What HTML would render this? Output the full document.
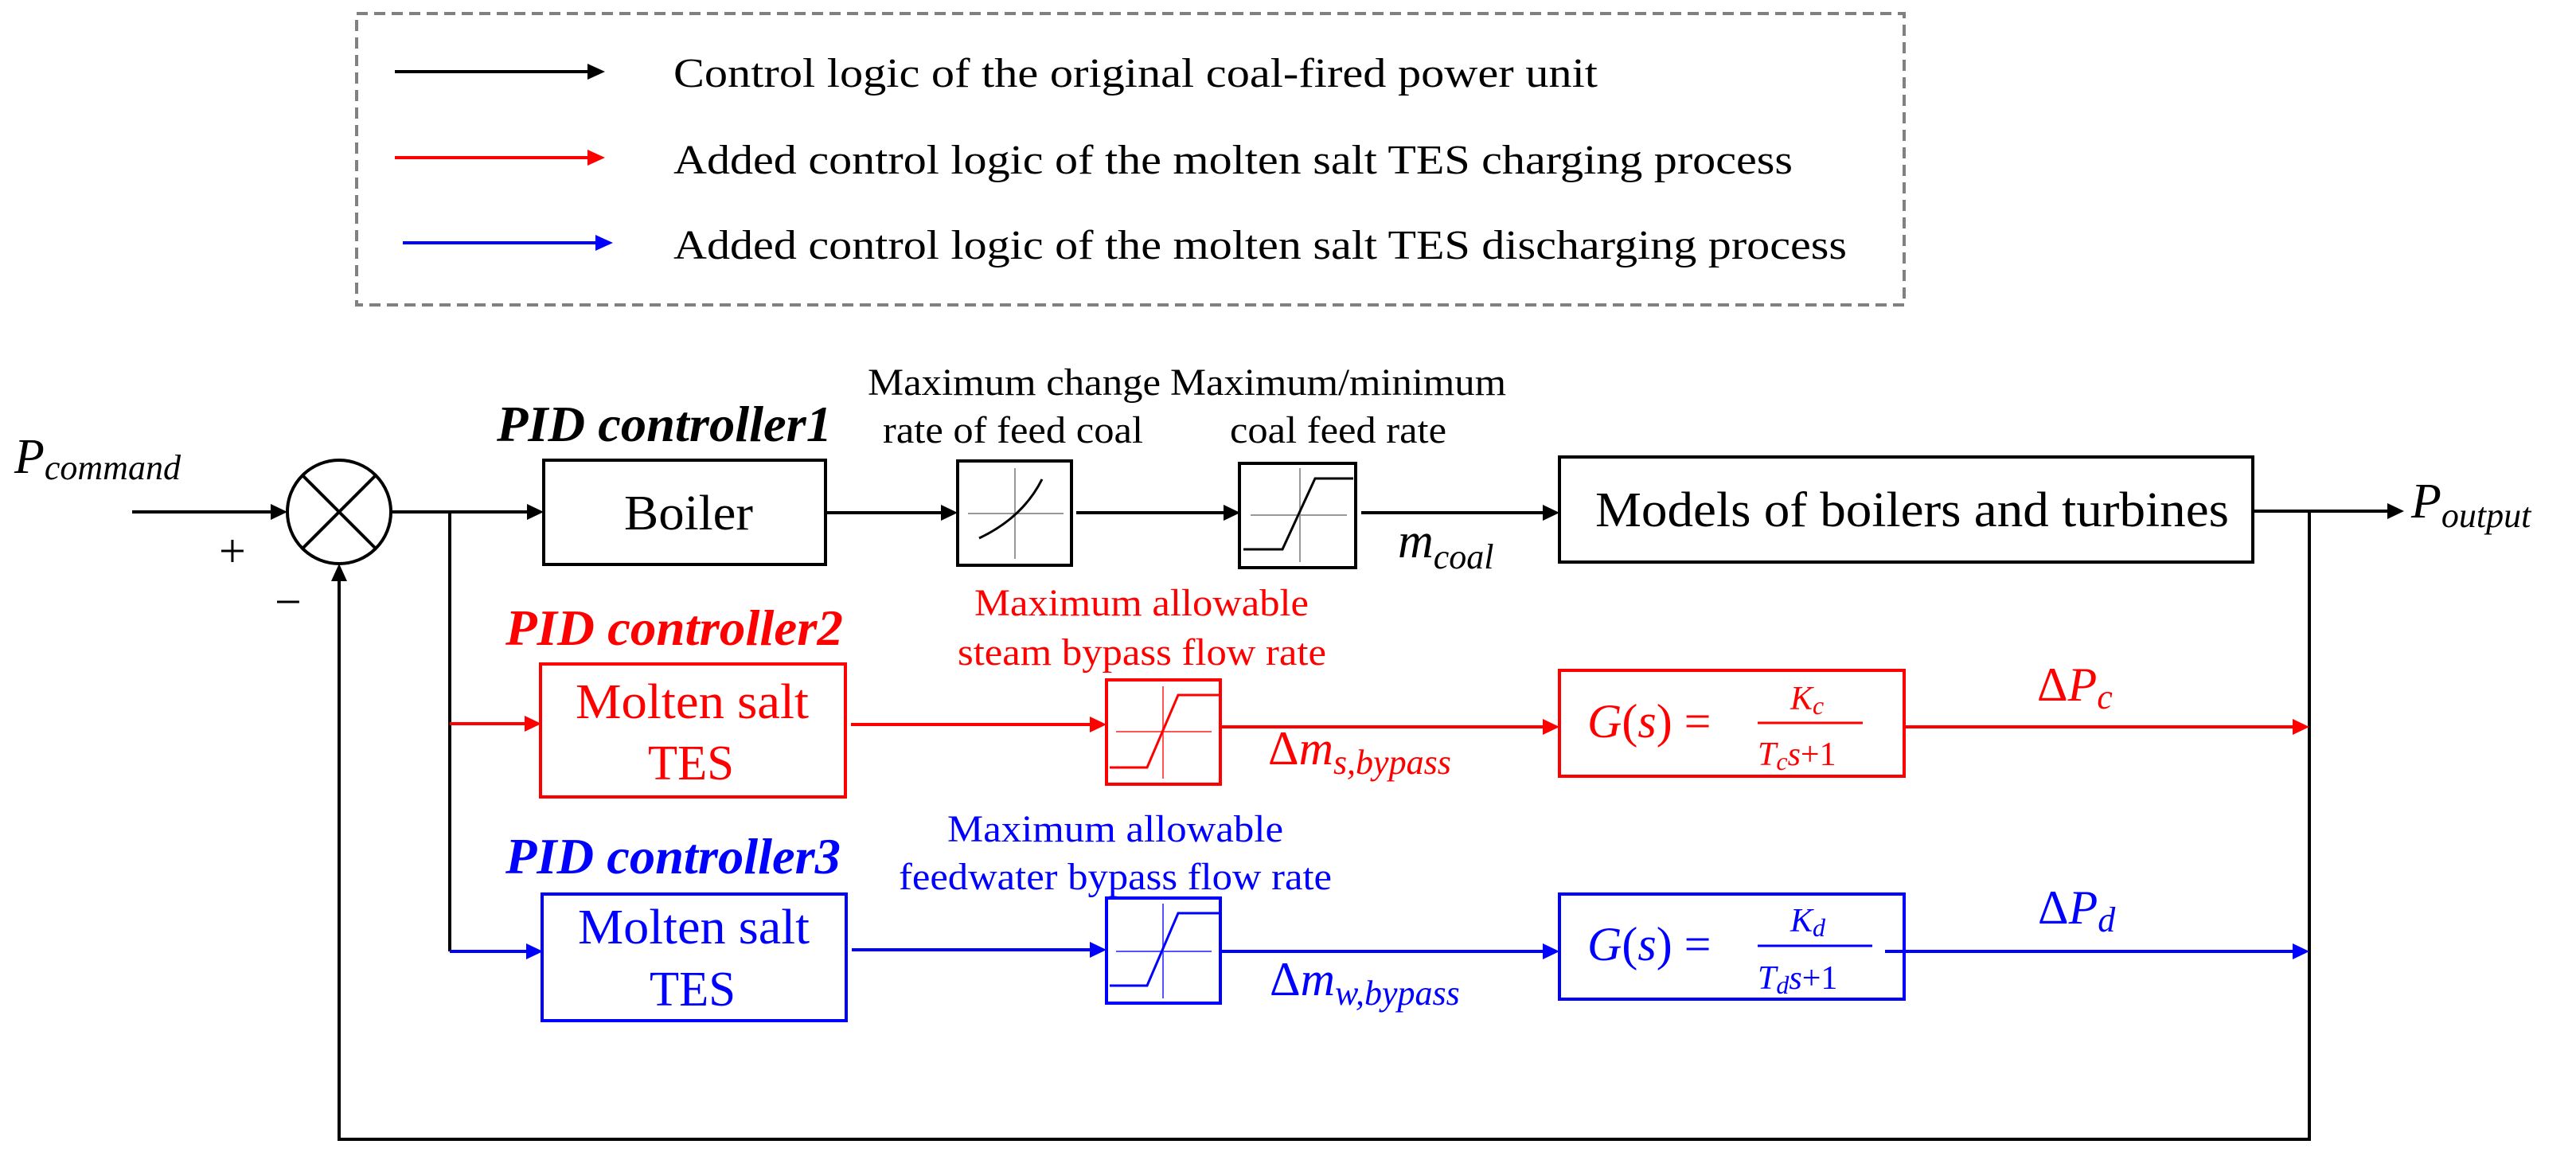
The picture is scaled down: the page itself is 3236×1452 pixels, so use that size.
<!DOCTYPE html>
<html><head><meta charset="utf-8"><style>html,body{margin:0;padding:0;background:#fff}svg{display:block}</style></head>
<body>
<svg width="3236" height="1452" viewBox="0 0 3236 1452" xmlns="http://www.w3.org/2000/svg" font-family="Liberation Serif, serif">
<defs>
<marker id="ak" markerWidth="8" markerHeight="8" refX="7" refY="4" orient="auto" markerUnits="userSpaceOnUse" viewBox="0 0 8 8"><path d="M0,0 L8,4 L0,8 z" fill="#000"/></marker>
</defs>
<!-- Legend -->
<rect x="448" y="17" width="1944" height="366" fill="none" stroke="#808080" stroke-width="4" stroke-dasharray="14,8"/>
<g stroke-width="4">
<line x1="496" y1="90" x2="740" y2="90" stroke="#000"/><path d="M738,80 L760,90 L738,100 z" fill="#000"/>
<line x1="496" y1="198" x2="740" y2="198" stroke="#f00"/><path d="M738,188 L760,198 L738,208 z" fill="#f00"/>
<line x1="506" y1="305" x2="750" y2="305" stroke="#00f"/><path d="M748,295 L770,305 L748,315 z" fill="#00f"/>
</g>
<g font-size="52" fill="#000">
<text x="846" y="109" textLength="1161" lengthAdjust="spacingAndGlyphs">Control logic of the original coal-fired power unit</text>
<text x="846" y="218" textLength="1406" lengthAdjust="spacingAndGlyphs">Added control logic of the molten salt TES charging process</text>
<text x="846" y="325" textLength="1474" lengthAdjust="spacingAndGlyphs">Added control logic of the molten salt TES discharging process</text>
</g>

<!-- Input -->
<text x="18" y="594" font-size="62" font-style="italic">P<tspan font-size="44" dy="8">command</tspan></text>
<line x1="166" y1="643" x2="340" y2="643" stroke="#000" stroke-width="4"/><path d="M340,633 L361,643 L340,653 z"/>
<text x="275" y="712" font-size="60">+</text>
<text x="345" y="776" font-size="60">−</text>
<circle cx="426" cy="643" r="65" fill="none" stroke="#000" stroke-width="4"/>
<line x1="380" y1="597" x2="472" y2="689" stroke="#000" stroke-width="4"/>
<line x1="472" y1="597" x2="380" y2="689" stroke="#000" stroke-width="4"/>

<!-- branch -->
<line x1="491" y1="643" x2="662" y2="643" stroke="#000" stroke-width="4"/><path d="M662,633 L683,643 L662,653 z"/>
<line x1="565" y1="643" x2="565" y2="1195" stroke="#000" stroke-width="4"/>
<line x1="565" y1="909" x2="660" y2="909" stroke="#f00" stroke-width="4"/><path d="M659,899 L680,909 L659,919 z" fill="#f00"/>
<line x1="565" y1="1195" x2="662" y2="1195" stroke="#00f" stroke-width="4"/><path d="M661,1185 L682,1195 L661,1205 z" fill="#00f"/>

<!-- feedback -->
<polyline points="2901,642 2901,1431 426,1431 426,730" fill="none" stroke="#000" stroke-width="4"/>
<path d="M416,730 L426,708 L436,730 z"/>

<!-- PID labels -->
<text x="624" y="554" font-size="64" font-weight="bold" font-style="italic" textLength="421" lengthAdjust="spacingAndGlyphs">PID controller1</text>
<text x="635" y="810" font-size="64" font-weight="bold" font-style="italic" fill="#f00" textLength="424" lengthAdjust="spacingAndGlyphs">PID controller2</text>
<text x="635" y="1097" font-size="64" font-weight="bold" font-style="italic" fill="#00f" textLength="421" lengthAdjust="spacingAndGlyphs">PID controller3</text>

<!-- Boiler -->
<rect x="683" y="578" width="354" height="131" fill="none" stroke="#000" stroke-width="4"/>
<text x="784" y="665" font-size="62" textLength="162" lengthAdjust="spacingAndGlyphs">Boiler</text>
<line x1="1037" y1="644" x2="1182" y2="644" stroke="#000" stroke-width="4"/><path d="M1182,634 L1203,644 L1182,654 z"/>

<!-- rate limiter -->
<text x="1090" y="496" font-size="48" textLength="368" lengthAdjust="spacingAndGlyphs">Maximum change</text>
<text x="1109" y="556" font-size="48" textLength="327" lengthAdjust="spacingAndGlyphs">rate of feed coal</text>
<rect x="1203" y="579" width="143" height="131" fill="none" stroke="#000" stroke-width="4"/>
<line x1="1216" y1="645" x2="1336" y2="645" stroke="#999" stroke-width="2"/>
<line x1="1275" y1="588" x2="1275" y2="702" stroke="#999" stroke-width="2"/>
<path d="M1230,676 Q1285,650 1309,602" fill="none" stroke="#000" stroke-width="3"/>
<line x1="1352" y1="644" x2="1537" y2="644" stroke="#000" stroke-width="4"/><path d="M1537,634 L1558,644 L1537,654 z"/>

<!-- saturation 1 -->
<text x="1470" y="496" font-size="48" textLength="422" lengthAdjust="spacingAndGlyphs">Maximum/minimum</text>
<text x="1545" y="556" font-size="48" textLength="272" lengthAdjust="spacingAndGlyphs">coal feed rate</text>
<rect x="1557" y="582" width="146" height="131" fill="none" stroke="#000" stroke-width="4"/>
<line x1="1571" y1="647" x2="1692" y2="647" stroke="#999" stroke-width="2"/>
<line x1="1633" y1="588" x2="1633" y2="706" stroke="#999" stroke-width="2"/>
<polyline points="1562,690 1611,690 1652,601 1700,601" fill="none" stroke="#000" stroke-width="3"/>
<line x1="1710" y1="644" x2="1938" y2="644" stroke="#000" stroke-width="4"/><path d="M1938,634 L1959,644 L1938,654 z"/>
<text x="1756" y="700" font-size="62" font-style="italic">m<tspan font-size="44" dy="14">coal</tspan></text>

<!-- Models -->
<rect x="1959" y="574" width="871" height="132" fill="none" stroke="#000" stroke-width="4"/>
<text x="2004" y="661" font-size="62" textLength="796" lengthAdjust="spacingAndGlyphs">Models of boilers and turbines</text>
<line x1="2830" y1="642" x2="3000" y2="642" stroke="#000" stroke-width="4"/><path d="M2999,632 L3020,642 L2999,652 z"/>
<text x="3029" y="650" font-size="62" font-style="italic">P<tspan font-size="44" dy="12">output</tspan></text>

<!-- Red row -->
<rect x="679" y="834" width="383" height="167" fill="none" stroke="#f00" stroke-width="4"/>
<text x="723" y="902" font-size="62" fill="#f00" textLength="293" lengthAdjust="spacingAndGlyphs">Molten salt</text>
<text x="814" y="979" font-size="62" fill="#f00" textLength="108" lengthAdjust="spacingAndGlyphs">TES</text>
<text x="1224" y="773" font-size="48" fill="#f00" textLength="420" lengthAdjust="spacingAndGlyphs">Maximum allowable</text>
<text x="1203" y="835" font-size="48" fill="#f00" textLength="463" lengthAdjust="spacingAndGlyphs">steam bypass flow rate</text>
<line x1="1069" y1="910" x2="1370" y2="910" stroke="#f00" stroke-width="4"/><path d="M1369,900 L1390,910 L1369,920 z" fill="#f00"/>
<rect x="1390" y="854" width="143" height="131" fill="none" stroke="#f00" stroke-width="4"/>
<line x1="1402" y1="919" x2="1522" y2="919" stroke="#f55" stroke-width="2"/>
<line x1="1461" y1="862" x2="1461" y2="978" stroke="#f55" stroke-width="2"/>
<polyline points="1394,964 1441,964 1480,873 1531,873" fill="none" stroke="#f00" stroke-width="3"/>
<line x1="1533" y1="913" x2="1938" y2="913" stroke="#f00" stroke-width="4"/><path d="M1938,903 L1959,913 L1938,923 z" fill="#f00"/>
<text x="1593" y="960" font-size="60" fill="#f00">Δ<tspan font-style="italic">m</tspan><tspan font-style="italic" font-size="44" dy="12">s,bypass</tspan></text>
<rect x="1959" y="842" width="433" height="133" fill="none" stroke="#f00" stroke-width="4"/>
<text x="1994" y="926" font-size="60" fill="#f00"><tspan font-style="italic">G</tspan>(<tspan font-style="italic">s</tspan>) =</text>
<text x="2249" y="891" font-size="42" fill="#f00" font-style="italic">K<tspan font-size="32" dy="6">c</tspan></text>
<line x1="2208" y1="908" x2="2340" y2="908" stroke="#f00" stroke-width="3"/>
<text x="2208" y="961" font-size="42" fill="#f00"><tspan font-style="italic">T</tspan><tspan font-style="italic" font-size="32" dy="6">c</tspan><tspan dy="-6" font-style="italic">s</tspan>+1</text>
<line x1="2392" y1="913" x2="2880" y2="913" stroke="#f00" stroke-width="4"/><path d="M2880,903 L2901,913 L2880,923 z" fill="#f00"/>
<text x="2559" y="880" font-size="60" fill="#f00">Δ<tspan font-style="italic">P</tspan><tspan font-style="italic" font-size="44" dy="10">c</tspan></text>

<!-- Blue row -->
<rect x="681" y="1123" width="382" height="159" fill="none" stroke="#00f" stroke-width="4"/>
<text x="726" y="1185" font-size="62" fill="#00f" textLength="291" lengthAdjust="spacingAndGlyphs">Molten salt</text>
<text x="816" y="1263" font-size="62" fill="#00f" textLength="108" lengthAdjust="spacingAndGlyphs">TES</text>
<text x="1190" y="1057" font-size="48" fill="#00f" textLength="422" lengthAdjust="spacingAndGlyphs">Maximum allowable</text>
<text x="1129" y="1117" font-size="48" fill="#00f" textLength="544" lengthAdjust="spacingAndGlyphs">feedwater bypass flow rate</text>
<line x1="1070" y1="1193" x2="1370" y2="1193" stroke="#00f" stroke-width="4"/><path d="M1369,1183 L1390,1193 L1369,1203 z" fill="#00f"/>
<rect x="1390" y="1128" width="143" height="132" fill="none" stroke="#00f" stroke-width="4"/>
<line x1="1402" y1="1195" x2="1522" y2="1195" stroke="#55f" stroke-width="2"/>
<line x1="1461" y1="1135" x2="1461" y2="1254" stroke="#55f" stroke-width="2"/>
<polyline points="1394,1238 1441,1238 1480,1147 1531,1147" fill="none" stroke="#00f" stroke-width="3"/>
<line x1="1533" y1="1195" x2="1938" y2="1195" stroke="#00f" stroke-width="4"/><path d="M1938,1185 L1959,1195 L1938,1205 z" fill="#00f"/>
<text x="1595" y="1250" font-size="60" fill="#00f">Δ<tspan font-style="italic">m</tspan><tspan font-style="italic" font-size="44" dy="12">w,bypass</tspan></text>
<rect x="1959" y="1123" width="433" height="132" fill="none" stroke="#00f" stroke-width="4"/>
<text x="1994" y="1206" font-size="60" fill="#00f"><tspan font-style="italic">G</tspan>(<tspan font-style="italic">s</tspan>) =</text>
<text x="2249" y="1170" font-size="42" fill="#00f" font-style="italic">K<tspan font-size="32" dy="6">d</tspan></text>
<line x1="2208" y1="1188" x2="2352" y2="1188" stroke="#00f" stroke-width="3"/>
<text x="2208" y="1242" font-size="42" fill="#00f"><tspan font-style="italic">T</tspan><tspan font-style="italic" font-size="32" dy="6">d</tspan><tspan dy="-6" font-style="italic">s</tspan>+1</text>
<line x1="2368" y1="1195" x2="2880" y2="1195" stroke="#00f" stroke-width="4"/><path d="M2880,1185 L2901,1195 L2880,1205 z" fill="#00f"/>
<text x="2560" y="1160" font-size="60" fill="#00f">Δ<tspan font-style="italic">P</tspan><tspan font-style="italic" font-size="44" dy="10">d</tspan></text>
</svg>
</body></html>
